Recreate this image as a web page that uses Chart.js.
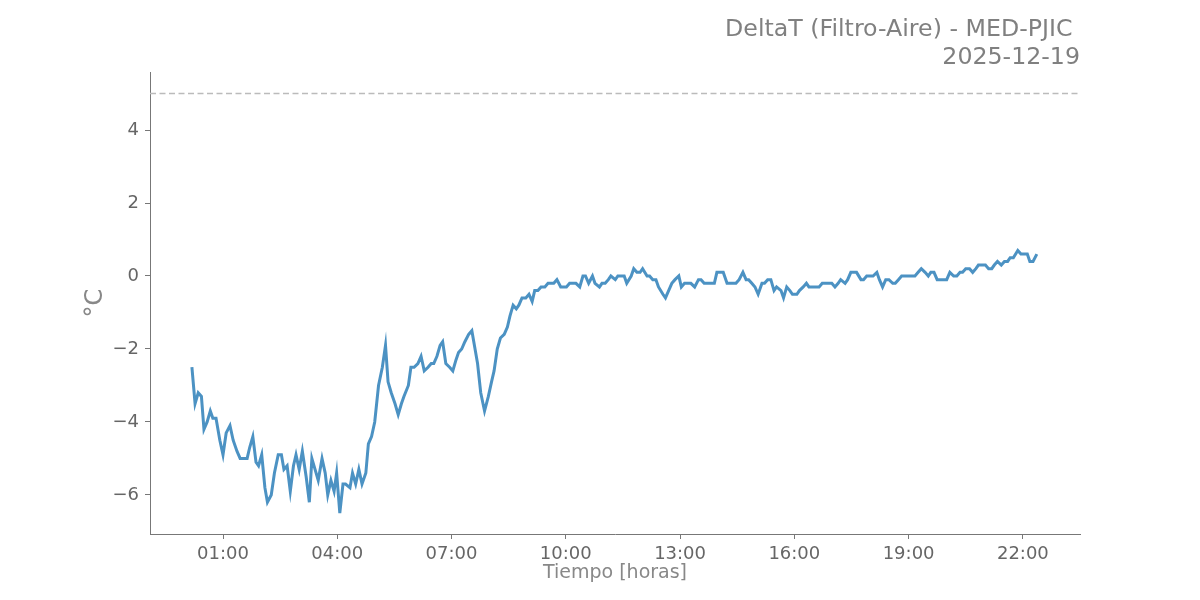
<!DOCTYPE html>
<html>
<head>
<meta charset="utf-8">
<script src="https://cdn.jsdelivr.net/npm/chart.js@4"></script>
<style>
  html, body { margin: 0; padding: 0; background: #fff; }
  canvas { display: block; }
</style>
</head>
<body>
<canvas id="chart" width="1200" height="600"></canvas>
<script>
// minutos desde medianoche
const minutes = [11,16,21,26,30,35,40,44,49,55,60,65,71,76,82,87,91,98,102,107,112,116,121,126,130,136,141,147,152,156,161,166,171,175,180,185,191,196,200,205,210,216,221,225,230,235,239,244,249,253,260,264,269,274,279,285,289,294,299,305,311,316,320,325,331,336,341,345,352,356,361,367,372,377,383,388,392,397,402,406,411,417,422,427,431,436,441,447,452,456,461,466,472,478,483,487,492,497,503,508,512,517,522,526,531,537,542,547,551,556,561,567,572,576,581,586,592,597,601,606,611,616,622,627,631,636,642,646,653,657,662,667,671,678,682,687,692,696,703,707,712,717,721,728,732,737,742,746,753,757,762,767,772,778,782,787,792,797,803,809,813,818,823,829,834,838,843,848,854,859,863,868,873,879,884,888,893,898,903,909,913,918,923,928,932,939,943,948,953,957,964,968,974,979,983,990,994,999,1004,1008,1015,1019,1024,1029,1033,1040,1044,1049,1054,1058,1065,1069,1074,1079,1084,1090,1094,1099,1104,1109,1115,1119,1124,1129,1134,1141,1146,1150,1155,1160,1166,1171,1175,1180,1185,1191,1196,1200,1205,1211,1216,1221,1225,1230,1236,1241,1246,1250,1255,1261,1266,1271,1275,1280,1286,1291,1296,1300,1305,1312,1317,1322,1327,1331,1336,1342];
// DeltaT en °C
const deltaT = [-2.5,-3.5,-3.2,-3.3,-4.2,-4.0,-3.7,-3.9,-3.9,-4.5,-4.9,-4.3,-4.1,-4.5,-4.8,-5.0,-5.0,-5.0,-4.7,-4.4,-5.1,-5.2,-4.9,-5.8,-6.2,-6.0,-5.4,-4.9,-4.9,-5.3,-5.2,-5.9,-5.2,-4.9,-5.3,-4.8,-5.5,-6.2,-5.0,-5.3,-5.6,-5.0,-5.4,-6.0,-5.6,-5.9,-5.4,-6.5,-5.7,-5.7,-5.8,-5.4,-5.7,-5.3,-5.7,-5.4,-4.6,-4.4,-4.0,-3.0,-2.5,-1.9,-2.9,-3.2,-3.5,-3.8,-3.5,-3.3,-3.0,-2.5,-2.5,-2.4,-2.2,-2.6,-2.5,-2.4,-2.4,-2.2,-1.9,-1.8,-2.4,-2.5,-2.6,-2.3,-2.1,-2.0,-1.8,-1.6,-1.5,-1.9,-2.4,-3.2,-3.7,-3.3,-2.9,-2.6,-2.0,-1.7,-1.6,-1.4,-1.1,-0.8,-0.9,-0.8,-0.6,-0.6,-0.5,-0.7,-0.4,-0.4,-0.3,-0.3,-0.2,-0.2,-0.2,-0.1,-0.3,-0.3,-0.3,-0.2,-0.2,-0.2,-0.3,0.0,0.0,-0.2,0.0,-0.2,-0.3,-0.2,-0.2,-0.1,0.0,-0.1,0.0,0.0,0.0,-0.2,0.0,0.2,0.1,0.1,0.2,0.0,0.0,-0.1,-0.1,-0.3,-0.5,-0.6,-0.4,-0.2,-0.1,0.0,-0.3,-0.2,-0.2,-0.2,-0.3,-0.1,-0.1,-0.2,-0.2,-0.2,-0.2,0.1,0.1,0.1,-0.2,-0.2,-0.2,-0.2,-0.1,0.1,-0.1,-0.1,-0.2,-0.3,-0.5,-0.2,-0.2,-0.1,-0.1,-0.4,-0.3,-0.4,-0.6,-0.3,-0.4,-0.5,-0.5,-0.4,-0.3,-0.2,-0.3,-0.3,-0.3,-0.3,-0.2,-0.2,-0.2,-0.2,-0.3,-0.2,-0.1,-0.2,-0.1,0.1,0.1,0.1,-0.1,-0.1,0.0,0.0,0.0,0.1,-0.1,-0.3,-0.1,-0.1,-0.2,-0.2,-0.1,0.0,0.0,0.0,0.0,0.0,0.1,0.2,0.1,0.0,0.1,0.1,-0.1,-0.1,-0.1,-0.1,0.1,0.0,0.0,0.1,0.1,0.2,0.2,0.1,0.2,0.3,0.3,0.3,0.2,0.2,0.3,0.4,0.3,0.4,0.4,0.5,0.5,0.7,0.6,0.6,0.6,0.4,0.4,0.6];

const xTicks = [60, 240, 420, 600, 780, 960, 1140, 1320];
const yTicks = [-6, -4, -2, 0, 2, 4];
const limite = 5;
const xMin = -55, xMax = 1410;
const yMin = -7.07, yMax = 5.59;

const titulo = ["DeltaT (Filtro-Aire) - MED-PJIC ", "2025-12-19"];

Chart.defaults.font.family = "DejaVu Sans";

function hhmm(m) {
  const h = Math.floor(m / 60), mm = m % 60;
  return String(h).padStart(2, "0") + ":" + String(mm).padStart(2, "0");
}

new Chart(document.getElementById("chart"), {
  type: "line",
  data: {
    datasets: [
      {
        data: minutes.map((m, i) => ({ x: m, y: deltaT[i] })),
        borderColor: "#4c92c3",
        borderWidth: 3,
        pointRadius: 0,
        tension: 0
      },
      {
        data: [{ x: xMin, y: limite }, { x: xMax, y: limite }],
        borderColor: "#bbbbbb",
        borderWidth: 1.5,
        borderDash: [6, 3.5],
        pointRadius: 0
      }
    ]
  },
  options: {
    responsive: false,
    animation: false,
    layout: { padding: { left: 0, right: 120, top: 0, bottom: 0 } },
    plugins: {
      legend: { display: false },
      tooltip: { enabled: false },
      title: {
        display: true,
        text: titulo,
        align: "end",
        color: "#808080",
        font: { size: 23.7, weight: "normal", lineHeight: 28 / 23.7 },
        padding: { top: 16, bottom: 0 }
      }
    },
    scales: {
      x: {
        type: "linear",
        min: xMin,
        max: xMax,
        afterBuildTicks: s => { s.ticks = xTicks.map(v => ({ value: v })); },
        afterFit: s => { s.height = 66; },
        ticks: {
          color: "#666",
          font: { size: 18 },
          padding: 5,
          callback: v => hhmm(v)
        },
        grid: { drawOnChartArea: false, drawTicks: true, tickLength: 5, tickColor: "#777" },
        border: { display: true, color: "#777", width: 1 },
        title: {
          display: true,
          text: "Tiempo [horas]",
          color: "#888",
          font: { size: 19 },
          padding: { top: 0, bottom: 16 }
        }
      },
      y: {
        min: yMin,
        max: yMax,
        afterBuildTicks: s => { s.ticks = yTicks.map(v => ({ value: v })); },
        afterFit: s => { s.width = 150; },
        ticks: {
          color: "#666",
          font: { size: 18 },
          padding: 6,
          callback: v => (v < 0 ? "\u2212" + Math.abs(v) : String(v))
        },
        grid: { drawOnChartArea: false, drawTicks: true, tickLength: 5, tickColor: "#777" },
        border: { display: true, color: "#777", width: 1 },
        title: {
          display: true,
          text: "°C",
          color: "#888",
          font: { size: 24 },
          padding: { top: 81, bottom: 0 }
        }
      }
    }
  }
});
</script>
</body>
</html>
